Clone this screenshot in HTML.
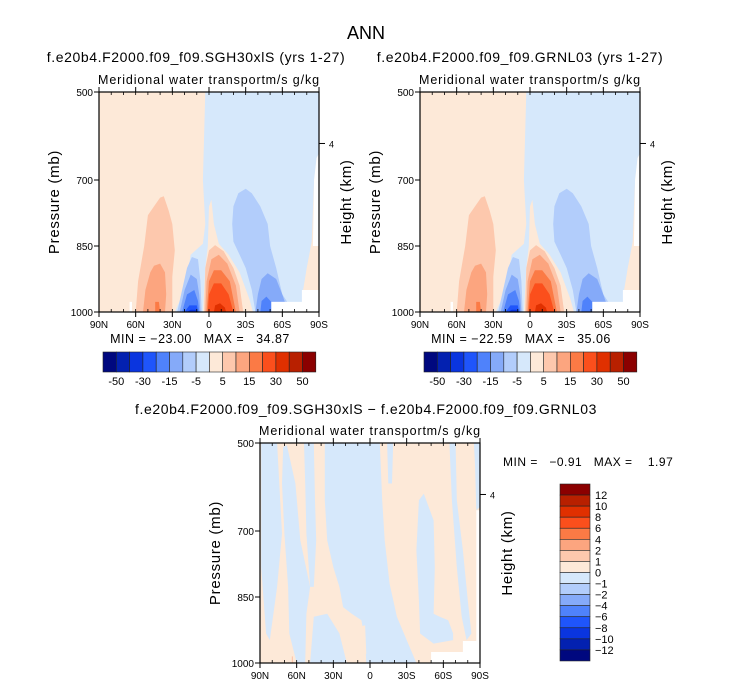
<!DOCTYPE html>
<html><head><meta charset="utf-8"><style>
html,body{margin:0;padding:0;background:#fff;}
svg{display:block;font-family:"Liberation Sans",sans-serif;}
text{white-space:pre;}
</style></head><body>
<svg id="fig" width="733" height="686" viewBox="0 0 733 686">
<text x="366" y="39" font-size="18" text-anchor="middle">ANN</text>
<text x="196" y="62" font-size="14" letter-spacing="0.6" text-anchor="middle">f.e20b4.F2000.f09_f09.SGH30xlS (yrs 1-27)</text>
<text x="520" y="62" font-size="14" letter-spacing="0.6" text-anchor="middle">f.e20b4.F2000.f09_f09.GRNL03 (yrs 1-27)</text>
<text x="366" y="414" font-size="14" letter-spacing="0.6" text-anchor="middle">f.e20b4.F2000.f09_f09.SGH30xlS − f.e20b4.F2000.f09_f09.GRNL03</text>
<g id="panels"></g>
</svg>
<script>
// ---- data (lat in degrees, +N; pressure in mb) ----
const latTicks=[90,60,30,0,-30,-60,-90];
const latLabels=['90N','60N','30N','0','30S','60S','90S'];
const presTicks=[500,700,850,1000];
const presLabels=['500','700','850','1000'];
const heightTickP=[617];
const heightLabels=['4'];
const topLevels=['-50','-30','-15','-5','5','15','30','50'];
const topColors=['#00087f','#0321b0','#0a35df','#1f55fb','#4f82fb','#85aaf9','#b2cdfb','#d6e8fb','#fde9d8','#fdc8ad','#fca57f','#fb7a45','#fb4f1c','#e03000','#b82000','#8b0000'];
const diffLevels=['12','10','8','6','4','2','1','0','−1','−2','−4','−6','−8','−10','−12'];
const diffColors=['#8b0000','#b82000','#e03000','#fb4f1c','#fb7a45','#fca57f','#fdc8ad','#fde9d8','#d6e8fb','#b2cdfb','#85aaf9','#4f82fb','#1f55fb','#0a35df','#0321b0','#00087f'];
// contour regions for the two top panels
const bigBlue=[[3,500],[-90,500],[-90,640],[-88,650],[-86,700],[-84,840],[-80,900],[-77,960],[-77,1000],[28,1000],[20,950],[15,870],[5,845],[3,800],[5,700]];
const rightPeach=[[-84,850],[-90,850],[-90,950],[-77,950],[-80,900]];
const rightWhite=[[-88,650],[-90,640],[-90,850],[-85,850],[-86,700]];
const eqOuter=[[5,1000],[3,900],[1,850],[0,760],[-2,745],[-4,800],[-8,845],[-16,870],[-25,910],[-33,970],[-36,1000]];
const eq5=[[4,1000],[3,900],[0,860],[-5,848],[-12,862],[-20,900],[-25,940],[-28,1000]];
const eq10=[[3,1000],[2,930],[-2,880],[-8,870],[-15,890],[-22,940],[-25,1000]];
const eq15=[[2,1000],[0,930],[-4,905],[-10,905],[-17,930],[-22,1000]];
const eq20=[[1,1000],[0,960],[-4,935],[-10,935],[-16,960],[-20,1000]];
const eq30=[[-4,1000],[-5,985],[-9,980],[-13,990],[-14,1000]];
const neg7=[[26,1000],[22,950],[18,900],[14,875],[9,880],[7,930],[6,1000]];
const neg6=[[24,1000],[20,950],[15,915],[10,925],[8,960],[7,1000]];
const neg5=[[22,1000],[18,960],[12,950],[9,975],[8,1000]];
const neg4=[[20,1000],[16,985],[10,985],[9,1000]];
const neg3=[[18,1000],[15,995],[11,995],[10,1000]];
const nh10=[[60,1000],[58,930],[53,850],[50,780],[45,760],[40,740],[37,737],[33,770],[30,800],[28,860],[30,920],[30,1000]];
const nh11=[[54,1000],[52,950],[48,910],[45,895],[40,890],[36,910],[35,960],[36,1000]];
const nh12=[[44,1000],[44,977],[41,977],[40,1000]];
const sh7=[[-19,800],[-20,760],[-24,730],[-30,720],[-35,730],[-42,760],[-48,800],[-50,850],[-55,900],[-60,960],[-64,977],[-51,977],[-51,1000],[-38,1000],[-35,950],[-30,900],[-25,870],[-20,840]];
const sh6=[[-38,1000],[-40,960],[-43,925],[-48,912],[-55,925],[-60,960],[-62,977],[-51,977],[-51,1000]];
const sh4=[[-42,1000],[-43,975],[-47,965],[-51,977],[-51,1000]];
const botWhite=[[-51,1000],[-51,977],[-76,977],[-76,950],[-90,950],[-90,1000]];
const nhWhite=[[65,1000],[65,977],[63,977],[63,1000]];
const topLayers=[[7,bigBlue],[8,rightPeach],[-1,rightWhite],[8,eqOuter],[9,eq5],[10,eq10],[11,eq15],[12,eq20],[13,eq30],[6,neg7],[5,neg6],[4,neg5],[3,neg4],[2,neg3],[9,nh10],[10,nh11],[11,nh12],[6,sh7],[5,sh6],[4,sh4],[-1,botWhite],[-1,nhWhite]];
// difference panel
const d1=[[89,500],[76,500],[72,706],[76,827],[82,948],[85,933],[89,782]];
const d2=[[71,509],[68,505],[61,592],[57,721],[49,827],[52,888],[53,1000],[60,1000],[66,933],[67,827],[70,706],[72,592]];
const d3=[[54,500],[46,500],[45,630],[44,721],[46,827],[49,827],[52,706],[53,592]];
const d4=[[37,500],[-8,500],[-10,630],[-12,721],[-16,820],[-22,895],[-30,948],[-38,1000],[3,1000],[4,948],[7,903],[15,888],[22,873],[25,827],[30,782],[35,721],[37,630]];
const d4b=[[46,895],[35,888],[25,933],[19,1000],[49,1000]];
const dIsland=[[9,918],[4,914],[3,979],[8,983]];
const d5=[[-14,500],[-19,500],[-18,592],[-15,592]];
const d6=[[-40,630],[-44,615],[-52,676],[-53,782],[-52,888],[-57,895],[-64,903],[-68,933],[-68,948],[-52,956],[-41,933],[-40,858],[-38,744]];
const d7=[[-65,500],[-70,500],[-71,630],[-76,744],[-80,858],[-83,933],[-79,948],[-75,895],[-71,782],[-67,630]];
const d8=[[-85,500],[-90,500],[-90,645],[-87,653],[-86,555]];
const dWhite=[[-50,1000],[-50,975],[-76,975],[-76,950],[-87,950],[-87,653],[-90,653],[-90,1000]];
const dRed=[[64,1000],[64,985],[63,985],[63,1000]];
const diffLayers=[[8,d1],[8,d2],[8,d3],[8,d4],[8,d4b],[7,dIsland],[8,d5],[8,d6],[8,d7],[8,d8],[-1,dWhite],[6,dRed]];

const NS='http://www.w3.org/2000/svg';
const root=document.getElementById('panels');
function el(tag,parent){const e=document.createElementNS(NS,tag);parent.appendChild(e);return e;}
function txt(parent,x,y,s,size,anchor){const t=el('text',parent);t.setAttribute('x',x);t.setAttribute('y',y);t.setAttribute('font-size',size);t.setAttribute('text-anchor',anchor);t.textContent=s;return t;}

function panel(ox,oy,layers,colors,bgIdx,name){
  const W=220,H=220;
  const xs=lat=>ox+(90-lat)/180*W;
  const ys=p=>oy+(p-500)/500*H;
  const g=el('g',root);
  
  
  const bg=el('rect',g);bg.setAttribute('x',ox);bg.setAttribute('y',oy);bg.setAttribute('width',W);bg.setAttribute('height',H);bg.setAttribute('fill',colors[bgIdx]);
  
  
  layers.forEach(([ci,poly])=>{
    const pth=el('polygon',g);
    pth.setAttribute('points',poly.map(([la,p])=>xs(la).toFixed(1)+','+ys(p).toFixed(1)).join(' '));
    pth.setAttribute('fill',ci<0?'#ffffff':colors[ci]);
    
    
  });
  const fr=el('rect',g);fr.setAttribute('x',ox);fr.setAttribute('y',oy);fr.setAttribute('width',W);fr.setAttribute('height',H);fr.setAttribute('fill','none');fr.setAttribute('stroke','#000');fr.setAttribute('stroke-width','1.2');
  
  
  for(let la=90;la>=-90;la-=10){
    const x=xs(la);
    [[oy,oy+3],[oy+H,oy+H-3]].forEach(([a,b])=>{const l=el('line',g);l.setAttribute('x1',x);l.setAttribute('x2',x);l.setAttribute('y1',a);l.setAttribute('y2',b);l.setAttribute('stroke','#000');l.setAttribute('stroke-width','0.8');});
  }
  latTicks.forEach((la,i)=>{
    const x=xs(la);
    [[oy,oy-5],[oy+H,oy+H+5]].forEach(([a,b])=>{const l=el('line',g);l.setAttribute('x1',x);l.setAttribute('x2',x);l.setAttribute('y1',a);l.setAttribute('y2',b);l.setAttribute('stroke','#000');});
    const t=txt(g,x,oy+H+16,latLabels[i],10,'middle');
    
    
  });
  presTicks.forEach((p,i)=>{
    const y=ys(p);
    const l=el('line',g);l.setAttribute('x1',ox-5);l.setAttribute('x2',ox);l.setAttribute('y1',y);l.setAttribute('y2',y);l.setAttribute('stroke','#000');
    const t=txt(g,ox-6,y+4,presLabels[i],10,'end');
    
    
  });
  heightTickP.forEach((p,i)=>{
    const y=ys(p);
    const l=el('line',g);l.setAttribute('x1',ox+W);l.setAttribute('x2',ox+W+6);l.setAttribute('y1',y);l.setAttribute('y2',y);l.setAttribute('stroke','#000');
    const t=txt(g,ox+W+10,y+4,heightLabels[i],9,'start');
    
    
  });
  const st=txt(g,ox-1,oy-8,'Meridional water transport',12.5,'start');
  st.setAttribute('letter-spacing','0.9');
  
  
  const un=txt(g,ox+W+1,oy-8,'m/s g/kg',12.5,'end');
  un.setAttribute('letter-spacing','0.9');
  
  
  const yl=txt(g,0,0,'Pressure (mb)',15,'middle');
  yl.setAttribute('letter-spacing','0.7');
  yl.setAttribute('transform','translate('+(ox-40)+','+(oy+H/2)+') rotate(-90)');
  
  
  const hl=txt(g,0,0,'Height (km)',15,'middle');
  hl.setAttribute('letter-spacing','0.7');
  hl.setAttribute('transform','translate('+(ox+W+32)+','+(oy+H/2)+') rotate(-90)');
  
  
}

function hbar(x0,y0,labels,colors,name){
  const g=el('g',root);
  
  
  const bw=13.3,bh=20;
  colors.forEach((c,i)=>{const r=el('rect',g);r.setAttribute('x',x0+i*bw);r.setAttribute('y',y0);r.setAttribute('width',bw);r.setAttribute('height',bh);r.setAttribute('fill',c);r.setAttribute('stroke','#222');r.setAttribute('stroke-width','0.6');
    
    });
  labels.forEach((s,i)=>{const t=txt(g,x0+(2*i+1)*bw,y0+bh+13,s,11,'middle');
    
    });
}
function vbar(x0,y0,labels,colors,name){
  const g=el('g',root);
  
  
  const bw=30,bh=11.06;
  colors.forEach((c,i)=>{const r=el('rect',g);r.setAttribute('x',x0);r.setAttribute('y',y0+i*bh);r.setAttribute('width',bw);r.setAttribute('height',bh);r.setAttribute('fill',c);r.setAttribute('stroke','#222');r.setAttribute('stroke-width','0.6');
    
    });
  labels.forEach((s,i)=>{const t=txt(g,x0+bw+5,y0+(i+1)*bh+4,s,11,'start');
    
    });
}

panel(99,92,topLayers,topColors,8,'left-panel');
panel(420,92,topLayers,topColors,8,'right-panel');
panel(260,443,diffLayers,diffColors,7,'diff-panel');
hbar(103,352,topLevels,topColors,'left-colorbar');
hbar(424,352,topLevels,topColors,'right-colorbar');
vbar(560,484,diffLevels,diffColors,'diff-colorbar');
let m=txt(root,200,343,'MIN = −23.00   MAX =   34.87',12.5,'middle');
m.setAttribute('letter-spacing','0.5');


m=txt(root,521,343,'MIN = −22.59   MAX =   35.06',12.5,'middle');
m.setAttribute('letter-spacing','0.5');


m=txt(root,503,466,'MIN =   −0.91   MAX =    1.97',12,'start');
m.setAttribute('letter-spacing','0.5');


</script>
</body></html>
